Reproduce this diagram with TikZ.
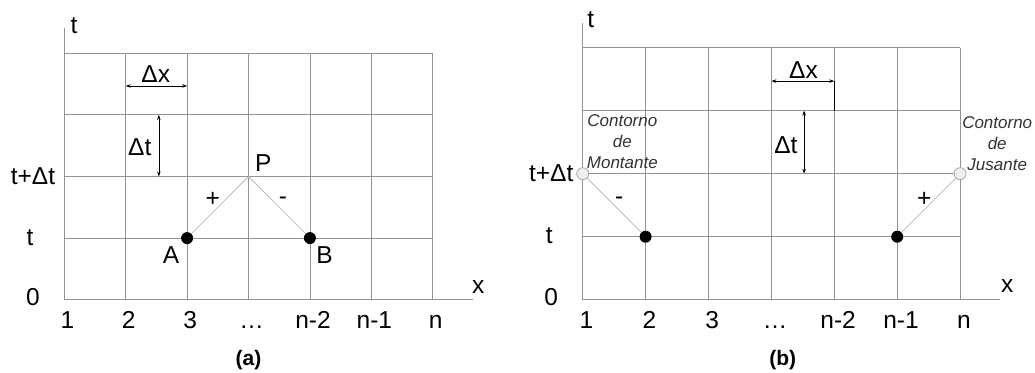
\documentclass[tikz,border=0pt]{standalone}
\usepackage{fontspec}
\setmainfont{Liberation Sans}
\usetikzlibrary{arrows.meta}

\begin{document}
\begin{tikzpicture}[x=1pt, y=1pt,
    every node/.style={font=\fontsize{24.5}{29}\selectfont, inner sep=0pt},
    grade/.style={draw=gray!85, line width=0.8pt},
    caract/.style={draw=gray!55, line width=0.8pt},
    cota/.style={{Stealth[length=5pt,width=3.5pt]}-{Stealth[length=5pt,width=3.5pt]}, line width=0.6pt},
    ponto/.style={circle, fill=black, minimum size=12pt},
    contorno/.style={circle, draw=gray!70, fill=gray!12, line width=0.8pt, minimum size=12pt},
    rotcont/.style={font=\fontsize{17}{21}\selectfont\itshape, align=center, text=black!80},
    legenda/.style={font=\fontsize{21}{25}\selectfont\bfseries}]
\useasboundingbox (0,0) rectangle (1035,372);

% (a) ponto interior
\begin{scope}[shift={(64.3pt,72.3pt)}, x=61.4pt, y=61.6pt]
    \foreach \i in {1,...,6} \draw[grade] (\i,0) -- (\i,4);
    \foreach \j in {1,...,4} \draw[grade] (0,\j) -- (6,\j);
    \draw[grade] (0,0) -- (6.65,0);
    \draw[grade] (0,0) -- (0,4.41);
    \node (ta) at (0.16,4.45) {t};
    \node (xa) at (6.74,0.21) {x};
    \node (tdta) at (-0.51,2) {t+Δt};
    \node (tta) at (-0.56,1) {t};
    \node (zeroa) at (-0.51,0.04) {0};
    \foreach \r [count=\i from 0] in {1,2,3,\ldots,n-2,n-1,n}
        \node[anchor=base] (na\i) at (\i+0.05,-0.465) {\r};
    % cotas
    \coordinate (dxa1) at (1,3.47);
    \coordinate (dxa2) at (2,3.47);
    \draw[cota] (dxa1) -- (dxa2);
    \node (rdxa) at (1.49,3.66) {Δx};
    \coordinate (dta1) at (1.54,3);
    \coordinate (dta2) at (1.54,2);
    \draw[cota] (dta1) -- (dta2);
    \node (rdta) at (1.23,2.48) {Δt};
    % caracteristicas
    \coordinate (aP) at (3,2);
    \node[ponto] (aA) at (2,1) {};
    \node[ponto] (aB) at (4,1) {};
    \draw[caract] (aA) -- (aP) -- (aB);
    \node (rP) at (3.24,2.22) {P};
    \node (rA) at (1.74,0.73) {A};
    \node (rB) at (4.24,0.73) {B};
    \node (mais) at (2.42,1.62) {+};
    \node (menos) at (3.56,1.6) {-};
    \node[legenda] (capa) at (3,-0.98) {(a)};
\end{scope}

% (b) contornos
\begin{scope}[shift={(582.7pt,72.3pt)}, x=62.9pt, y=63pt]
    \foreach \i in {1,...,6} \draw[grade] (\i,0) -- (\i,4);
    \foreach \j in {1,...,4} \draw[grade] (0,\j) -- (6,\j);
    \draw[grade] (0,0) -- (6.63,0);
    \draw[grade] (0,0) -- (0,4.39);
    \node (tb) at (0.13,4.44) {t};
    \node (xb) at (6.75,0.21) {x};
    \node (tdtb) at (-0.5,2.01) {t+Δt};
    \node (ttb) at (-0.53,1.01) {t};
    \node (zerob) at (-0.5,0.04) {0};
    \foreach \r [count=\i from 0] in {1,2,3,\ldots,n-2,n-1,n}
        \node[anchor=base] (nb\i) at (\i+0.06,-0.45) {\r};
    % cotas
    \coordinate (dxb1) at (3,3.47);
    \coordinate (dxb2) at (4,3.47);
    \draw[cota] (dxb1) -- (dxb2);
    \draw[line width=0.6pt] (dxb2) -- (4,3);
    \node (rdxb) at (3.51,3.64) {Δx};
    \coordinate (dtb1) at (3.52,3);
    \coordinate (dtb2) at (3.52,2);
    \draw[cota] (dtb1) -- (dtb2);
    \node (rdtb) at (3.23,2.46) {Δt};
    % caracteristicas nos contornos
    \node[contorno] (bM) at (0,2) {};
    \node[contorno] (bJ) at (6,2) {};
    \node[ponto] (bE) at (1,1) {};
    \node[ponto] (bD) at (5,1) {};
    \draw[caract] (bM) -- (bE);
    \draw[caract] (bD) -- (bJ);
    \node (menosb) at (0.58,1.57) {-};
    \node (maisb) at (5.43,1.59) {+};
    \node[rotcont] (cmont) at (0.63,2.51) {Contorno\\de\\Montante};
    \node[rotcont] (cjus) at (6.59,2.48) {Contorno\\de\\Jusante};
    \node[legenda] (capb) at (3.18,-0.96) {(b)};
\end{scope}
\end{tikzpicture}
\end{document}
